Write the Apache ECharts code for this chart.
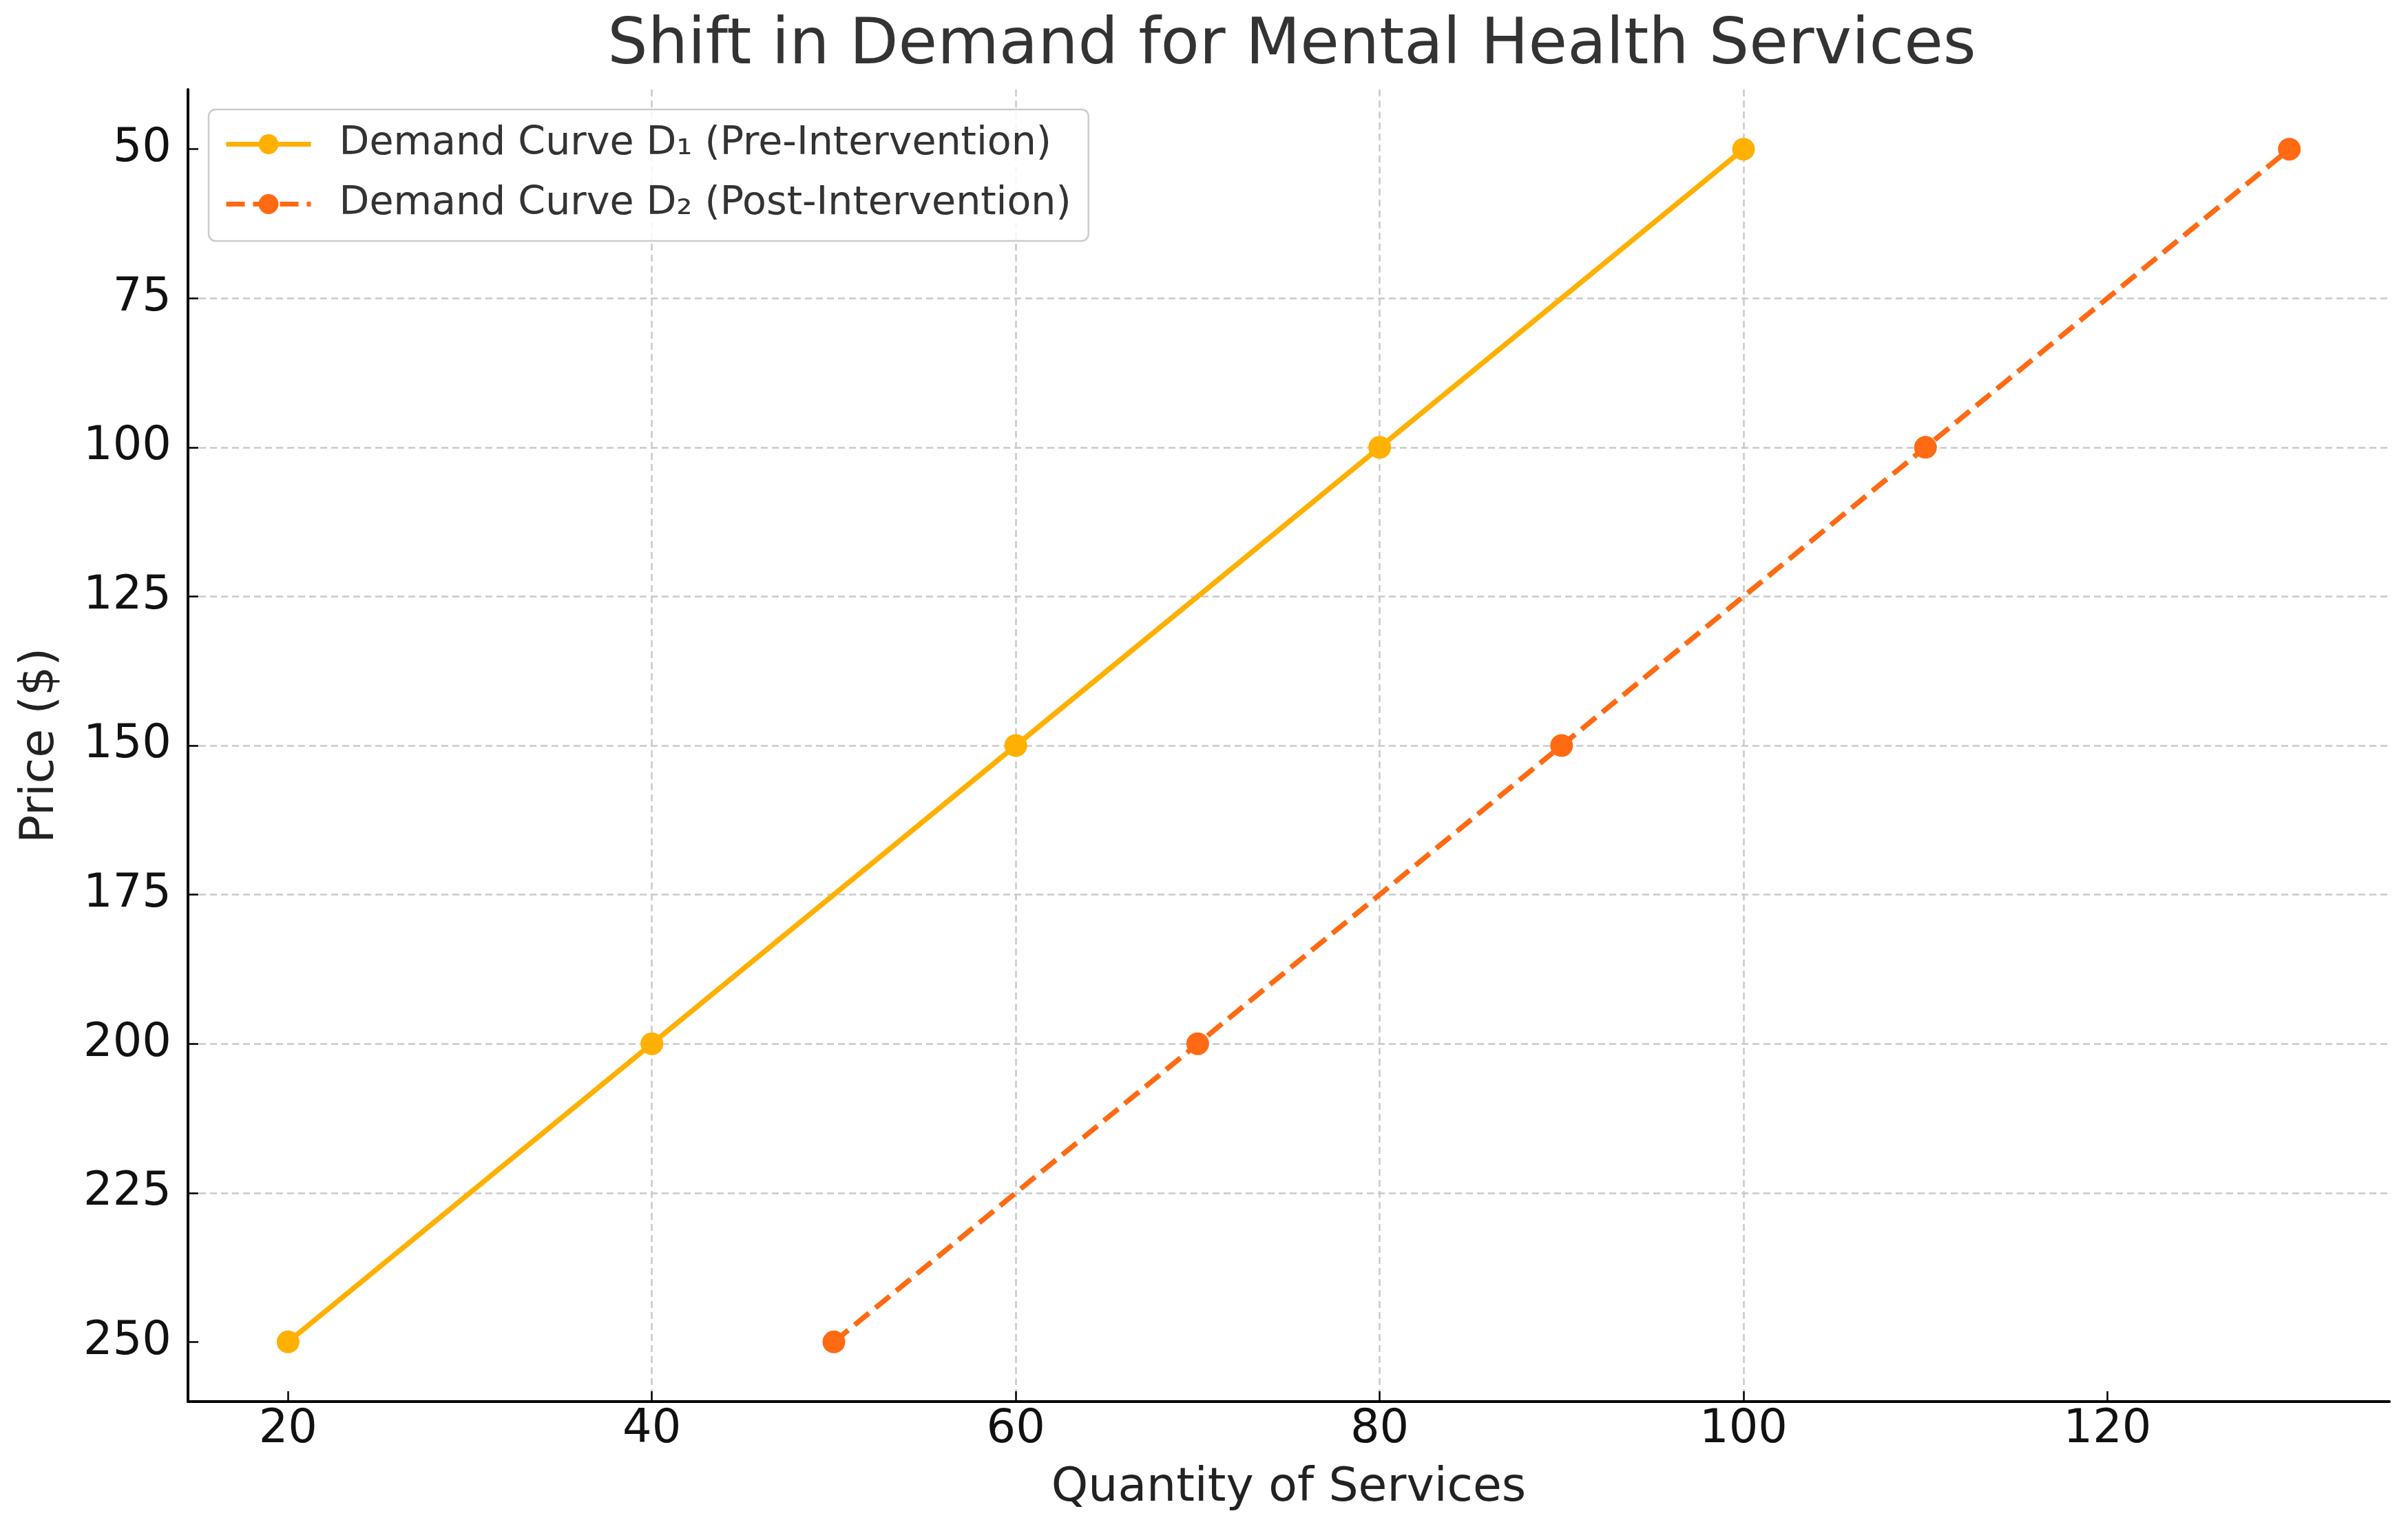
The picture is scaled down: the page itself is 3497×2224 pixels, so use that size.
<!DOCTYPE html>
<html>
<head>
<meta charset="utf-8">
<script src="https://cdn.jsdelivr.net/npm/echarts@6/dist/echarts.min.js"></script>
<style>
html,body{margin:0;padding:0;background:#fff;}
#chart{width:3497px;height:2224px;}
</style>
</head>
<body>
<div id="chart"></div>
<script>
const quantityD1 = [20, 40, 60, 80, 100];
const priceD1 = [250, 200, 150, 100, 50];
const quantityD2 = [50, 70, 90, 110, 130];
const priceD2 = [250, 200, 150, 100, 50];
const xTicks = [20, 40, 60, 80, 100, 120];
const yTicks = [50, 75, 100, 125, 150, 175, 200, 225, 250];
const seriesNames = ['Demand Curve D\u2081 (Pre-Intervention)', 'Demand Curve D\u2082 (Post-Intervention)'];

const FONT = 'DejaVu Sans';
const chart = echarts.init(document.getElementById('chart'), null, {renderer: 'canvas'});

const gridLine = {show: true, showMinLine: false, showMaxLine: false,
  lineStyle: {color: '#cacaca', width: 2.5, type: [10, 6]}};

chart.setOption({
  backgroundColor: '#ffffff',
  animation: false,
  title: {
    text: 'Shift in Demand for Mental Health Services',
    left: 1871, top: 17, textAlign: 'center',
    textStyle: {fontFamily: FONT, fontSize: 92, fontWeight: 'normal', color: '#333333'}
  },
  legend: {
    orient: 'vertical', left: 303, top: 159,
    data: seriesNames,
    itemWidth: 123, itemHeight: 36, itemGap: 30,
    padding: [22, 25, 25, 22],
    backgroundColor: 'rgba(255,255,255,0.85)',
    borderColor: '#cccccc', borderWidth: 2.5, borderRadius: 10,
    lineStyle: {width: 7},
    textStyle: {fontFamily: FONT, fontSize: 57, color: '#333333', padding: [0, 0, 0, 36]}
  },
  grid: {left: 273, right: 27, top: 130, bottom: 188},
  xAxis: {
    type: 'value', min: 14.5, max: 135.5,
    name: 'Quantity of Services', nameLocation: 'middle', nameGap: 92,
    nameTextStyle: {fontFamily: FONT, fontSize: 68, color: '#222222'},
    axisLine: {show: true, lineStyle: {color: '#000', width: 4}},
    axisTick: {show: true, inside: true, length: 15, lineStyle: {color: '#000', width: 2.5}, customValues: xTicks},
    axisLabel: {fontFamily: FONT, fontSize: 67, color: '#111', margin: 8, customValues: xTicks},
    splitLine: gridLine
  },
  yAxis: {
    type: 'value', inverse: true, min: 40, max: 260,
    name: 'Price ($)', nameLocation: 'middle', nameGap: 180, nameRotate: 90,
    nameTextStyle: {fontFamily: FONT, fontSize: 68, color: '#222222'},
    axisLine: {show: true, lineStyle: {color: '#000', width: 4}},
    axisTick: {show: true, inside: true, length: 15, lineStyle: {color: '#000', width: 2.5}, customValues: yTicks},
    axisLabel: {fontFamily: FONT, fontSize: 67, color: '#111', margin: 24, customValues: yTicks},
    splitLine: gridLine
  },
  series: [
    {
      name: seriesNames[0], type: 'line',
      data: quantityD1.map((q, i) => [q, priceD1[i]]),
      symbol: 'circle', symbolSize: 33,
      lineStyle: {color: '#FFB000', width: 7.5},
      itemStyle: {color: '#FFB000'}
    },
    {
      name: seriesNames[1], type: 'line',
      data: quantityD2.map((q, i) => [q, priceD2[i]]),
      symbol: 'circle', symbolSize: 33,
      lineStyle: {color: '#FF6A13', width: 7.5, type: [27, 12]},
      itemStyle: {color: '#FF6A13'}
    }
  ]
});
</script>
</body>
</html>
